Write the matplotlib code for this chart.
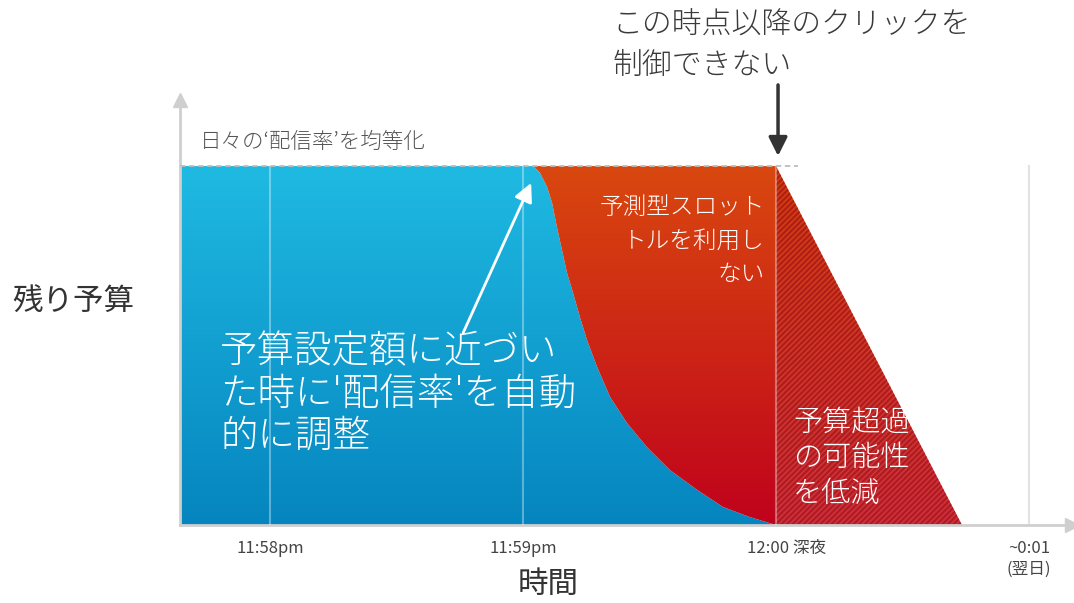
import numpy as np
import matplotlib
matplotlib.use('Agg')
import matplotlib.pyplot as plt
from matplotlib.patches import Polygon
from matplotlib.colors import to_rgb
from matplotlib.transforms import ScaledTranslation

plt.rcParams['font.family'] = ['Noto Sans CJK JP', 'DejaVu Sans']
plt.rcParams['hatch.linewidth'] = 1.6

# x: 分 (0 = 11:58pm), y: 残り予算 (1 = 1日の予算)
tick_x = [0, 1, 2, 3]
tick_labels = ['11:58pm', '11:59pm', '12:00 深夜', '~0:01\n(翌日)']

# 配信率を調整した場合の境界 (青と赤の境目)
curve_x = [1.040, 1.067, 1.095, 1.115, 1.134, 1.154, 1.174, 1.198, 1.225, 1.253,
           1.293, 1.344, 1.411, 1.490, 1.581, 1.688, 1.791, 1.897, 2.0]
curve_y = [1.000, 0.981, 0.942, 0.897, 0.830, 0.766, 0.702, 0.646, 0.579, 0.515,
           0.440, 0.357, 0.284, 0.217, 0.153, 0.098, 0.050, 0.022, 0.0]

# 予算超過の可能性 (斜線の三角形)
over_x = [2.0, 2.0, 2.735]
over_y = [1.0, 0.0, 0.0]

budget = 1.0
x_min, x_max = -0.356, 3.17
y_min, y_max = 0.0, 1.184

fig = plt.figure(figsize=(10.74, 6.03), dpi=100)
ax = fig.add_axes([180 / 1074, 78 / 603, 892 / 1074, 425 / 603])
ax.set_xlim(x_min, x_max)
ax.set_ylim(y_min, y_max)


def gradient_fill(xs, ys, top, bottom, z=1):
    poly = Polygon(np.column_stack([xs, ys]), closed=True, facecolor='none', edgecolor='none')
    ax.add_patch(poly)
    t = np.linspace(0, 1, 256)[:, None]
    c0, c1 = np.array(to_rgb(top)), np.array(to_rgb(bottom))
    img = (c0 * (1 - t) + c1 * t)[:, None, :]
    im = ax.imshow(img, extent=[min(xs), max(xs), 0, budget], aspect='auto',
                   interpolation='bilinear', zorder=z)
    im.set_clip_path(poly)
    return poly


# 青: 配信率を自動調整
blue_x = [x_min, x_min] + curve_x
blue_y = [0, budget] + curve_y
gradient_fill(blue_x, blue_y, '#1fbae2', '#0585bf')

# 赤: 予測型スロットを利用しない
red_x = curve_x[::-1] + [2.0]
red_y = curve_y[::-1] + [budget]
gradient_fill(red_x, red_y, '#d9480f', '#c0021c')

# 斜線の三角形
gradient_fill(over_x, over_y, '#d2400f', '#cf3143')
ax.fill(over_x, over_y, facecolor='none', edgecolor='#a31212', hatch='//////',
        linewidth=0, alpha=0.7, zorder=2)

# 縦の目盛り線
for xv in tick_x[:3]:
    ax.plot([xv, xv], [0, budget], color='white', alpha=0.35, lw=1.5, zorder=3)
ax.plot([3, 3], [0, budget], color='#e2e2e2', lw=1.5, zorder=0)

# 日々の配信率 (点線)
ax.plot([x_min, 2.087], [budget, budget], color='#bdbdbd', lw=1.3, ls=(0, (3, 2)), zorder=4)

# 軸
for s in ['top', 'right']:
    ax.spines[s].set_visible(False)
for s in ['left', 'bottom']:
    ax.spines[s].set_color('#cfcfcf')
    ax.spines[s].set_linewidth(2)
ax.plot(1, 0, '>', color='#cfcfcf', markersize=10, transform=ax.transAxes, clip_on=False)
ax.plot(0, 1, '^', color='#cfcfcf', markersize=10, transform=ax.transAxes, clip_on=False)
ax.set_yticks([])
ax.set_xticks(tick_x, tick_labels)
ax.tick_params(axis='x', length=0, pad=11, labelsize=12, labelcolor='#444444')
for lab in ax.get_xticklabels():
    lab.set_verticalalignment('top')
    lab.set_linespacing(1.3)
lab12 = ax.get_xticklabels()[2]
lab12.set_transform(lab12.get_transform() + ScaledTranslation(11 / 100, 0, fig.dpi_scale_trans))

# 文字
ax.text(-0.277, 1.067, '日々の‘配信率’を均等化', fontsize=15.5, color='#555555',
        ha='left', va='center', fontweight='light')
ax.text(-0.198, 0.537, "予算設定額に近づい\nた時に'配信率'を自動\n的に調整", fontsize=27,
        color='white', ha='left', va='top', linespacing=1.08, zorder=6, fontweight='light')
ax.text(1.957, 0.92, '予測型スロット\nトルを利用し\nない', fontsize=17, color='white',
        ha='right', va='top', linespacing=1.45, zorder=6, fontweight='light')
ax.text(2.067, 0.328, '予算超過\nの可能性\nを低減', fontsize=21, color='white',
        ha='left', va='top', linespacing=1.22, zorder=6, fontweight='light')
ax.text(1.352, 1.434, 'この時点以降のクリックを\n制御できない', fontsize=21.5, color='#3a3a3a',
        ha='left', va='top', linespacing=1.4, clip_on=False, fontweight='light')
ax.text(-1.02, 0.621, '残り予算', fontsize=22, color='#333333', ha='left', va='center')
ax.text(1.099, -0.167, '時間', fontsize=22, color='#333333', ha='center', va='center')

# 矢印
ax.annotate('', xy=(1.032, 0.953), xytext=(0.763, 0.535),
            arrowprops=dict(arrowstyle='-|>', color='white', lw=2, mutation_scale=28,
                            shrinkA=0, shrinkB=0), zorder=6)
ax.annotate('', xy=(2.008, 1.028), xytext=(2.008, 1.226),
            arrowprops=dict(arrowstyle='-|>', color='#333333', lw=2.5, mutation_scale=28,
                            shrinkA=0, shrinkB=0), annotation_clip=False)

fig.savefig('out.png', dpi=100)
